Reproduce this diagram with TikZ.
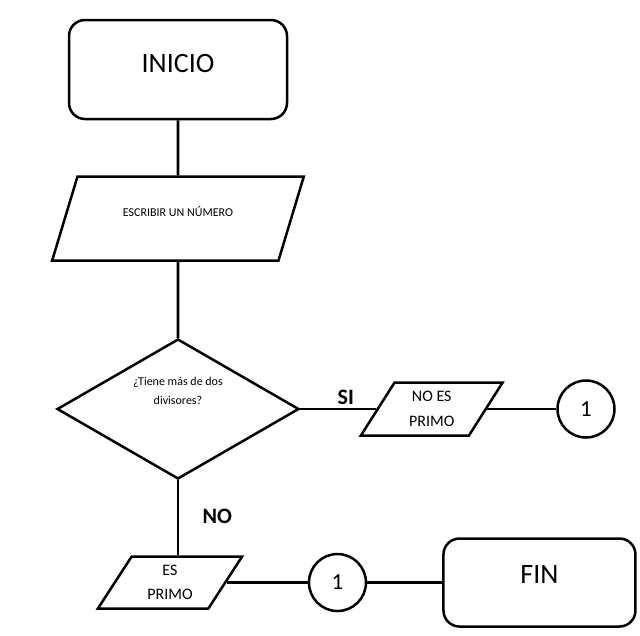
\documentclass[tikz,border=0pt]{standalone}
\usepackage{fontspec}
\setmainfont{Carlito}
\usetikzlibrary{positioning,shapes.geometric}

\begin{document}
\begin{tikzpicture}[
  x=1pt, y=-1pt,
  node distance=55pt,
  term/.style={draw, line width=2.5pt, rounded corners=16pt, minimum width=218pt, minimum height=99pt, font=\fontsize{28}{34}\selectfont},
  io/.style={draw, line width=2.5pt, trapezium, trapezium left angle=60, trapezium right angle=120, trapezium stretches=true, align=center, inner sep=0pt},
  rombo/.style={draw, line width=2.5pt, diamond, aspect=1.73, minimum width=242pt, minimum height=140pt, inner sep=0pt, align=center, font=\fontsize{12}{19}\selectfont},
  conector/.style={draw, line width=2.5pt, circle, minimum size=57pt, inner sep=0pt, font=\fontsize{23}{28}\selectfont},
  line/.style={line width=2.8pt},
  lbl/.style={font=\fontsize{22}{26}\selectfont\bfseries}
]
\useasboundingbox (0,0) rectangle (640,635);

\node[term, text depth=13pt] (inicio) at (178,69.5) {INICIO};
\node[io, below=55pt of inicio, minimum width=252pt, minimum height=84pt, text depth=14pt, font=\fontsize{12}{16}\selectfont] (escribir) {ESCRIBIR UN NÚMERO};
\node[rombo, below=76pt of escribir, text depth=36pt] (pregunta) {¿Tiene más de dos\\divisores?};
\node[io, right=76pt of pregunta, minimum width=143pt, minimum height=53pt, font=\fontsize{16}{25}\selectfont] (noprimo) {NO ES\\PRIMO};
\node[conector, right=69pt of noprimo] (conA) {1};
\node[io, below=75pt of pregunta, xshift=-8pt, minimum width=145pt, minimum height=52pt, font=\fontsize{16}{24}\selectfont] (siprimo) {ES\\PRIMO};
\node[conector, right=81pt of siprimo] (conB) {1};
\node[term, right=75pt of conB, minimum width=192pt, minimum height=88pt, text depth=16pt] (fin) {FIN};

\draw[line] (inicio) -- (escribir);
\draw[line] (escribir) -- (pregunta);
\draw[line] (pregunta.east) -- node[lbl, above, pos=0.6] {SI} (noprimo.west);
\draw[line] (noprimo.east) -- (conA);
\draw[line] (pregunta.south) -- node[lbl, right=20pt, pos=0.48] {NO} (pregunta.south |- siprimo.north);
\draw[line] (siprimo.east) -- (conB);
\draw[line] (conB) -- (fin);
\end{tikzpicture}
\end{document}
